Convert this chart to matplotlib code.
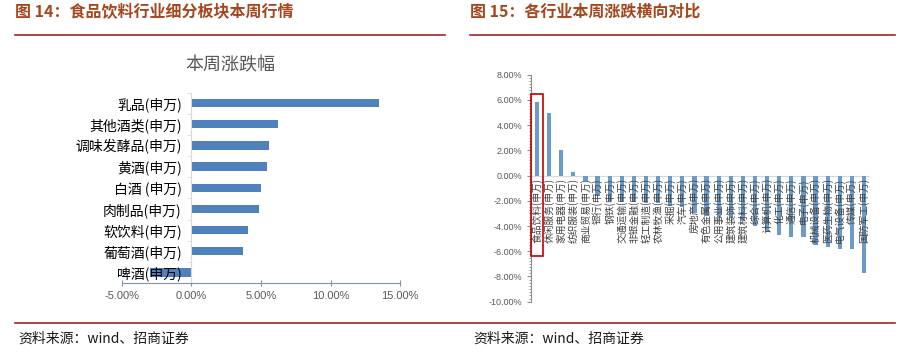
import matplotlib
matplotlib.use("Agg")
import matplotlib.pyplot as plt
from matplotlib.ticker import MultipleLocator, FuncFormatter
from matplotlib.patches import Rectangle
from matplotlib.lines import Line2D

plt.rcParams['font.family'] = ['Noto Sans CJK SC', 'DejaVu Sans']

# ===============================
# dados
# ===============================
sub_labels = ["乳品(申万)", "其他酒类(申万)", "调味发酵品(申万)", "黄酒(申万)",
              "白酒 (申万)", "肉制品(申万)", "软饮料(申万)", "葡萄酒(申万)", "啤酒(申万)"]
sub_values = [13.5, 6.2, 5.6, 5.4, 5.0, 4.87, 4.05, 3.67, -3.0]
sub_ticks = [-5, 0, 5, 10, 15]

ind_labels = ["食品饮料", "休闲服务", "家用电器", "纺织服装", "商业贸易", "银行", "钢铁",
              "交通运输", "非银金融", "轻工制造", "农林牧渔", "采掘", "汽车", "房地产",
              "有色金属", "公用事业", "建筑装饰", "建筑材料", "综合", "计算机", "化工",
              "通信", "电子", "机械设备", "医药生物", "电气设备", "传媒", "国防军工"]
ind_values = [5.8, 5.0, 2.0, 0.3, -0.45, -1.6, -2.0, -2.1, -2.1, -2.2, -2.2, -2.4,
              -2.5, -3.0, -3.2, -3.3, -3.4, -3.6, -4.0, -4.5, -4.7, -4.85, -4.9,
              -5.5, -5.7, -5.8, -5.8, -7.7]
ind_ticks = [8, 6, 4, 2, 0, -2, -4, -6, -8, -10]

header_color = "#a5461f"
line_color = "#9c2a2a"

fig = plt.figure(figsize=(9.04, 3.53), dpi=100)

# ===============================
# cabecalhos / rodape
# ===============================
fig.text(15 / 904, 1 - 12 / 353, "图 14：食品饮料行业细分板块本周行情", fontsize=11.5,
         fontweight="bold", color=header_color, va="center", ha="left")
fig.text(470 / 904, 1 - 12 / 353, "图 15：各行业本周涨跌横向对比", fontsize=11.5,
         fontweight="bold", color=header_color, va="center", ha="left")
fig.add_artist(Line2D([15 / 904, 445 / 904], [1 - 35 / 353] * 2, color=line_color, lw=1.2))
fig.add_artist(Line2D([470 / 904, 895 / 904], [1 - 35 / 353] * 2, color=line_color, lw=1.2))
fig.add_artist(Line2D([15 / 904, 895 / 904], [1 - 323 / 353] * 2, color=line_color, lw=1.2))
fig.text(18 / 904, 1 - 339 / 353, "资料来源：wind、招商证券", fontsize=10, color="#1a1a1a",
         va="center", ha="left")
fig.text(473 / 904, 1 - 339 / 353, "资料来源：wind、招商证券", fontsize=10, color="#1a1a1a",
         va="center", ha="left")

# ===============================
# plot 1: subsetores
# ===============================
ax1 = fig.add_axes([122 / 904, 1 - 283 / 353, 278 / 904, 190.5 / 353])
pos = list(range(len(sub_labels)))
ax1.barh(pos, sub_values, height=0.4, color="#4f81bd", zorder=1)
ax1.set_ylim(len(sub_labels) - 0.5, -0.5)
ax1.set_xlim(-5, 15)
ax1.set_xticks(sub_ticks)
ax1.xaxis.set_major_formatter(FuncFormatter(lambda v, p: f"{v:.2f}%"))
ax1.set_yticks(pos)
ax1.set_yticklabels(sub_labels, fontsize=7.5, color="#262626")
ax1.yaxis.set_minor_locator(MultipleLocator(1, offset=0.5))
ax1.tick_params(axis="y", which="major", length=0, pad=7)
ax1.tick_params(axis="y", which="minor", length=3, color="#d9d9d9")
ax1.tick_params(axis="x", direction="inout", length=5, color="#7f93ad",
                labelsize=8, labelcolor="#595959", pad=3)
for lab in ax1.get_xticklabels():
    lab.set_family(["Liberation Sans", "DejaVu Sans"])
for s in ["top", "right"]:
    ax1.spines[s].set_visible(False)
ax1.spines["left"].set_position(("data", 0))
ax1.spines["left"].set_color("#d9d9d9")
ax1.spines["bottom"].set_color("#7f93ad")
for lab in ax1.get_yticklabels():
    lab.set_zorder(5)
fig.text(230 / 904, 1 - 65 / 353, "本周涨跌幅", fontsize=13, color="#595959",
         ha="center", va="center")

# ===============================
# plot 2: industrias
# ===============================
ax2 = fig.add_axes([531 / 904, 1 - 301.7 / 353, 339 / 904, 227 / 353])
xs = list(range(len(ind_labels)))
ax2.bar(xs, ind_values, width=0.35, color="#6b9bc8", zorder=2)
ax2.axhline(0, color="#d9d9d9", lw=0.8, zorder=1)
ax2.set_xlim(-0.5, len(ind_labels) - 0.5)
ax2.set_ylim(-10, 8)
ax2.set_yticks(ind_ticks)
ax2.yaxis.set_major_formatter(FuncFormatter(lambda v, p: f"{v:.2f}%"))
ax2.yaxis.set_minor_locator(MultipleLocator(0.25))
ax2.set_xticks([])
ax2.tick_params(axis="y", which="major", length=3, color="#8c8c8c",
                labelsize=6.5, labelcolor="#595959", pad=3)
ax2.tick_params(axis="y", which="minor", length=1.5, color="#8c8c8c")
for lab in ax2.get_yticklabels():
    lab.set_family(["Liberation Sans", "DejaVu Sans"])
for s in ["top", "right", "bottom"]:
    ax2.spines[s].set_visible(False)
ax2.spines["left"].set_color("#8c8c8c")
for x, lab in zip(xs, ind_labels):
    ax2.text(x, -0.2, lab + "(申万)", rotation=90, ha="center", va="top",
             fontsize=7, color="#404040", zorder=3)
ax2.add_patch(Rectangle((-0.5, -6.35), 1.02, 12.85, fill=False, edgecolor="#c00000",
                        lw=1.2, zorder=4, clip_on=False))

fig.savefig("out.png", dpi=100)
